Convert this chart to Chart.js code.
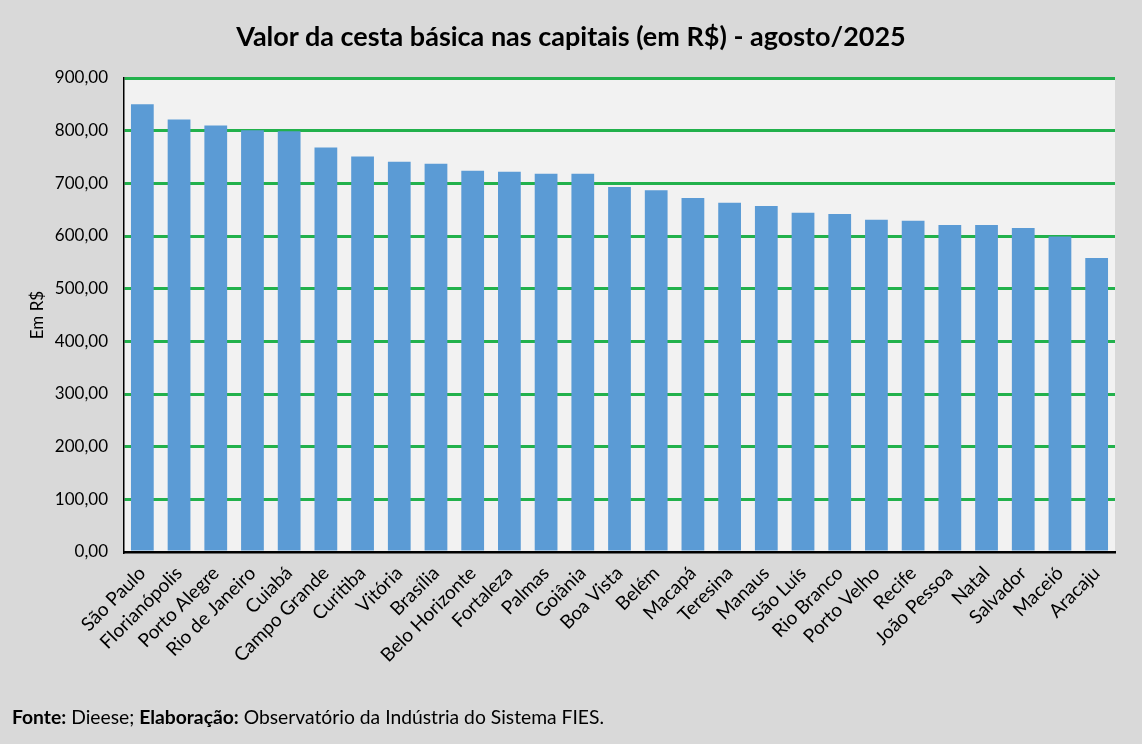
<!DOCTYPE html>
<html>

<head>
    <meta charset="utf-8">
    <title>Cesta básica</title>
    <script src="https://cdn.jsdelivr.net/npm/chart.js@4.4.1/dist/chart.umd.min.js"></script>
    <style>
        body {
            margin: 0;
            background: #d9d9d9;
            font-family: Lato, "Open Sans", sans-serif;
        }

        #wrap {
            position: relative;
            width: 1142px;
            height: 744px;
        }

        #titulo {
            position: absolute;
            left: 0;
            top: 20px;
            width: 1142px;
            text-align: center;
            font-size: 27px;
            line-height: 32px;
            font-weight: bold;
            color: #000;
        }

        #fonte {
            position: absolute;
            left: 12px;
            top: 705px;
            font-size: 19.3px;
            color: #000;
        }
    </style>
</head>

<body>
    <div id="wrap">
        <canvas id="canvas" width="1142" height="744"></canvas>
        <div id="titulo">Valor da cesta básica nas capitais (em R$) - agosto/2025</div>
        <div id="fonte"><b>Fonte:</b> Dieese; <b>Elaboração:</b> Observatório da Indústria do Sistema FIES.</div>
    </div>

    <script>
        // capitais, ordered as in the picture
        const capitais = ['São Paulo', 'Florianópolis', 'Porto Alegre', 'Rio de Janeiro', 'Cuiabá',
            'Campo Grande', 'Curitiba', 'Vitória', 'Brasília', 'Belo Horizonte', 'Fortaleza', 'Palmas',
            'Goiânia', 'Boa Vista', 'Belém', 'Macapá', 'Teresina', 'Manaus', 'São Luís', 'Rio Branco',
            'Porto Velho', 'Recife', 'João Pessoa', 'Natal', 'Salvador', 'Maceió', 'Aracaju'];

        // valor da cesta (R$)
        const valores = [850, 821, 810, 801, 799, 768, 751, 741, 737, 724, 722, 718, 718, 693,
            687, 672, 663, 657, 644, 642, 631, 629, 621, 621, 615, 599, 558];

        const yMin = 0;
        const yMax = 900;
        const yStep = 100;

        // grey plot background
        const plotBg = {
            id: 'plotBg',
            beforeDraw(chart) {
                const a = chart.chartArea;
                const ctx = chart.ctx;
                ctx.save();
                ctx.fillStyle = '#f2f2f2';
                ctx.fillRect(a.left, a.top, a.right - a.left, a.bottom - a.top);
                ctx.restore();
            }
        };

        new Chart(document.getElementById('canvas'), {
            type: 'bar',
            data: {
                labels: capitais,
                datasets: [{
                    label: 'Valor',
                    data: valores,
                    backgroundColor: '#5b9bd5',
                    categoryPercentage: 1,
                    barPercentage: 0.62
                }]
            },
            options: {
                responsive: false,
                animation: false,
                layout: { padding: { left: 0, right: 27, top: 78, bottom: 0 } },
                plugins: {
                    legend: { display: false },
                    tooltip: { enabled: false },
                    title: { display: false }
                },
                scales: {
                    x: {
                        grid: { display: false },
                        border: { color: '#000', width: 2.5 },
                        ticks: {
                            color: '#000',
                            font: { family: 'Lato', size: 19 },
                            minRotation: 45,
                            maxRotation: 45,
                            autoSkip: false,
                            padding: 2
                        },
                        afterFit(scale) { scale.height = 192; }
                    },
                    y: {
                        min: yMin,
                        max: yMax,
                        grid: {
                            color: ctx => ctx.tick && ctx.tick.value === 0 ? 'rgba(0,0,0,0)' : '#22b14c',
                            lineWidth: 3,
                            drawTicks: false
                        },
                        border: { color: '#000', width: 1.5 },
                        ticks: {
                            stepSize: yStep,
                            color: '#000',
                            padding: 16,
                            font: { family: 'Lato', size: 17 },
                            callback: v => v.toFixed(2).replace('.', ',')
                        },
                        title: {
                            display: true,
                            text: 'Em R$',
                            color: '#000',
                            font: { family: 'Lato', size: 17 },
                            padding: { top: 27, bottom: 10 }
                        },
                        afterFit(scale) { scale.width = 124; }
                    }
                }
            },
            plugins: [plotBg]
        });
    </script>
</body>

</html>
